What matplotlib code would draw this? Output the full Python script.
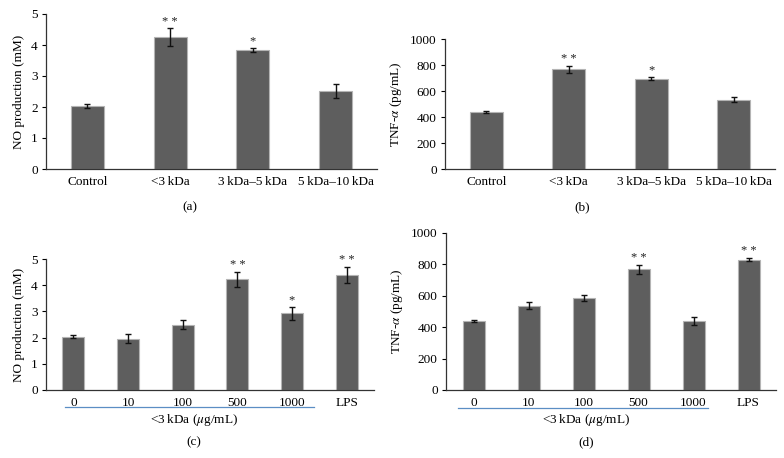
import matplotlib
matplotlib.use("Agg")
import matplotlib.pyplot as plt
from matplotlib.lines import Line2D

plt.rcParams['font.family'] = ['Liberation Serif', 'DejaVu Serif']
plt.rcParams['mathtext.fontset'] = 'stix'

# Data
cats_ab = ["Control", "<3\u2009kDa", "3\u2009kDa\u20135\u2009kDa", "5\u2009kDa\u201310\u2009kDa"]
no_a = [2.04, 4.25, 3.83, 2.51]
no_a_err = [0.06, 0.29, 0.07, 0.22]
no_a_sig = ["", "**", "*", ""]

tnf_b = [438, 767, 695, 533]
tnf_b_err = [5, 27, 14, 18]
tnf_b_sig = ["", "**", "*", ""]

cats_cd = ["0", "10", "100", "500", "1000", "LPS"]
no_c = [2.04, 1.95, 2.50, 4.22, 2.93, 4.40]
no_c_err = [0.06, 0.17, 0.17, 0.29, 0.24, 0.30]
no_c_sig = ["", "", "", "**", "*", "**"]

tnf_d = [442, 536, 587, 768, 439, 831]
tnf_d_err = [6, 22, 20, 27, 27, 12]
tnf_d_sig = ["", "", "", "**", "", "**"]

W, H = 784, 458
fig = plt.figure(figsize=(W / 100, H / 100), dpi=100)

BAR = "#5e5e5e"
EDGE = "#b4b4b4"
FS = 9


def px_axes(l, r, t, b):
    return fig.add_axes([l / W, 1 - b / H, (r - l) / W, (b - t) / H])


def panel(ax, cats, vals, errs, sigs, ymax, ystep, ylabel, sig_off):
    x = list(range(len(cats)))
    ax.bar(x, vals, width=0.4, color=BAR, edgecolor=EDGE, linewidth=0.8, zorder=2)
    ax.errorbar(x, vals, yerr=errs, fmt="none", ecolor="#111111", elinewidth=1,
                capsize=2.5, capthick=1, zorder=3)
    for xi, v, e, s in zip(x, vals, errs, sigs):
        if s:
            ax.text(xi, v + e + sig_off, " ".join(s), ha="center", va="bottom",
                    fontsize=FS, color="#222222")
    ax.set_xlim(-0.5, len(cats) - 0.5)
    ax.set_ylim(0, ymax)
    ticks = [i * ystep for i in range(int(round(ymax / ystep)) + 1)]
    ax.set_yticks(ticks)
    ax.set_yticklabels([str(t) for t in ticks], fontsize=FS + 0.5)
    ax.set_xticks(x)
    ax.set_xticklabels(cats, fontsize=FS + 0.5)
    ax.tick_params(axis="x", length=0, pad=5)
    ax.tick_params(axis="y", length=3, width=0.8, pad=3, direction="out")
    for sp in ["top", "right"]:
        ax.spines[sp].set_visible(False)
    for sp in ["left", "bottom"]:
        ax.spines[sp].set_color("#333333")
        ax.spines[sp].set_linewidth(0.9)
    ax.set_ylabel(ylabel, fontsize=FS + 0.5, labelpad=4)


ax_a = px_axes(46, 377, 14, 169)
panel(ax_a, cats_ab, no_a, no_a_err, no_a_sig, 5, 1, "NO production (mM)", 0.02)

ax_b = px_axes(445, 775, 39, 169)
panel(ax_b, cats_ab, tnf_b, tnf_b_err, tnf_b_sig, 1000, 200, "TNF-$\\alpha$ (pg/mL)", 5)

ax_c = px_axes(46, 374, 259, 390)
panel(ax_c, cats_cd, no_c, no_c_err, no_c_sig, 5, 1, "NO production (mM)", 0.02)

ax_d = px_axes(446, 776, 233, 390)
panel(ax_d, cats_cd, tnf_d, tnf_d_err, tnf_d_sig, 1000, 200, "TNF-$\\alpha$ (pg/mL)", 5)

# panel letters
for txt, xp, yp in [("(a)", 190, 207), ("(b)", 582, 207), ("(c)", 194, 442), ("(d)", 586, 442)]:
    fig.text(xp / W, 1 - yp / H, txt, ha="center", va="center", fontsize=FS + 0.5)

# group underline and label for c and d
for x0, x1, yl, xc in [(65, 314, 407, 194), (458, 708, 408, 586)]:
    fig.add_artist(Line2D([x0 / W, x1 / W], [1 - yl / H, 1 - yl / H],
                          color="#5b8ec4", linewidth=0.9))
    fig.text(xc / W, 1 - 420 / H, "<3\u2009kDa ($\\mu$g/mL)", ha="center", va="center",
             fontsize=FS + 0.5)

fig.savefig("out.png", dpi=100)
